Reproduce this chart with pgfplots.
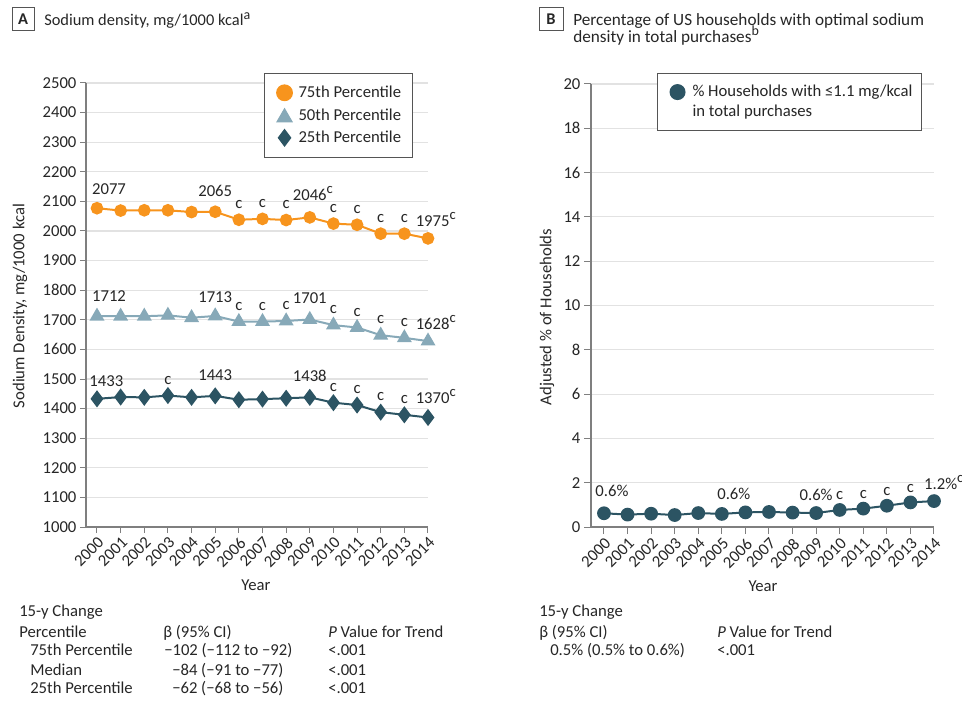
\documentclass[border=0pt]{standalone}
\usepackage{fontspec}
\setmainfont{Carlito}
\usepackage{pgfplots}
\pgfplotsset{compat=1.18}
\definecolor{orangeC}{HTML}{F7941D}
\definecolor{lightC}{HTML}{87A9B8}
\definecolor{darkC}{HTML}{2C5463}
\definecolor{axisC}{HTML}{7F7F7F}
\definecolor{gridC}{HTML}{E2E2E2}
\definecolor{textC}{HTML}{262626}
\definecolor{legC}{HTML}{555555}
\protected\def\supc{\rlap{\raisebox{0.42em}{\fontsize{11pt}{12pt}\selectfont c}}}
\newcommand\fs{\fontsize{12.5pt}{15pt}\selectfont}
\newcommand\fst{\fontsize{12.3pt}{14.4pt}\selectfont}
\newcommand\fstb{\fontsize{12.9pt}{14.4pt}\selectfont}
\pgfplotsset{
  base/.style={
    scale only axis, clip=false,
    axis lines=left, axis line style={-, draw=axisC, line width=1.1pt},
    tick align=outside, major tick length=4.5pt,
    tick style={draw=axisC, line width=0.75pt},
    ymajorgrids, grid style={draw=gridC, line width=0.9pt},
    /pgf/number format/1000 sep={},
    /pgf/number format/assume math mode=true,
    tick label style={text=textC, font=\fs},
    xtick={2000,...,2014},
    xticklabel style={rotate=45, anchor=north east, inner sep=1.5pt},
    yticklabel style={inner sep=2.5pt},
    xmax=2014,
    legend cell align=left,
  },
  lab/.style={draw=none, mark=none, forget plot, nodes near coords, point meta=explicit symbolic,
    nodes near coords style={text=textC, anchor=base, inner sep=0pt, font=\fs, #1}},
}
\begin{document}
\begin{tikzpicture}[font=\fs, text=textC]
\useasboundingbox (0,0) rectangle (721.5pt,525pt);
% ---------- Panel A ----------
\begin{axis}[base, at={(64.5pt,129.75pt)}, anchor=south west, width=256.5pt, height=333pt,
  xmin=1999.535, ymin=1000, ymax=2500, ytick={1000,1100,...,2500},
  legend style={at={(0.5205,1.0225)}, anchor=north west, draw=legC, line width=0.8pt,
    inner xsep=8.6pt, inner ysep=6pt, row sep=0pt, nodes={inner sep=0pt, text=textC, font=\fs}}]
\addlegendimage{legend image code/.code={\path[draw=none,fill=none] (-6.4pt,-8.44pt) rectangle (10.5pt,8.44pt);
  \draw[orangeC, fill=orangeC, mark=*, mark size=5.9pt] plot coordinates {(0pt,0pt)};}}
\addlegendentry{75th Percentile}
\addlegendimage{legend image code/.code={\path[draw=none,fill=none] (-6.4pt,-8.44pt) rectangle (10.5pt,8.44pt);
  \draw[lightC, fill=lightC, mark=triangle*, mark size=6.5pt] plot coordinates {(0pt,-1.6pt)};}}
\addlegendentry{50th Percentile}
\addlegendimage{legend image code/.code={\path[draw=none,fill=none] (-6.4pt,-8.44pt) rectangle (10.5pt,8.44pt);
  \draw[darkC, fill=darkC, mark=diamond*, mark size=6.2pt] plot coordinates {(0pt,0pt)};}}
\addlegendentry{25th Percentile}
\addplot[forget plot, orangeC, line width=1.5pt, mark=*, mark size=4pt, mark options={fill=orangeC}] coordinates {
(2000,2077) (2001,2069) (2002,2070) (2003,2070) (2004,2064) (2005,2065) (2006,2038) (2007,2041)
(2008,2037) (2009,2046) (2010,2025) (2011,2021) (2012,1991) (2013,1991) (2014,1975)};
\addplot[forget plot, lightC, line width=1.5pt, mark=triangle*, mark size=5pt, mark options={fill=lightC}] coordinates {
(2000,1712) (2001,1712) (2002,1712) (2003,1715) (2004,1707) (2005,1713) (2006,1694) (2007,1694)
(2008,1696) (2009,1701) (2010,1682) (2011,1674) (2012,1648) (2013,1639) (2014,1628)};
\addplot[forget plot, darkC, line width=1.5pt, mark=diamond*, mark size=5.2pt, mark options={fill=darkC}] coordinates {
(2000,1433) (2001,1439) (2002,1438) (2003,1444) (2004,1438) (2005,1443) (2006,1430) (2007,1432)
(2008,1435) (2009,1438) (2010,1420) (2011,1412) (2012,1388) (2013,1379) (2014,1370)};
% labels 75th
\addplot[lab={yshift=10pt, xshift=9pt}] coordinates {(2000,2077)[2077]};
\addplot[lab={yshift=11.7pt}] coordinates {(2005,2065)[2065]};
\addplot[lab={yshift=12.5pt}] coordinates {(2009,2046)[2046\supc]};
\addplot[lab={yshift=8.8pt, xshift=3.5pt}] coordinates {(2014,1975)[1975\supc]};
\addplot[lab={yshift=8.6pt}] coordinates {(2006,2038)[c] (2007,2041)[c] (2008,2037)[c] (2010,2025)[c] (2011,2021)[c] (2012,1991)[c] (2013,1991)[c]};
% labels 50th
\addplot[lab={yshift=11.25pt, xshift=9pt}] coordinates {(2000,1712)[1712]};
\addplot[lab={yshift=9.75pt}] coordinates {(2005,1713)[1713]};
\addplot[lab={yshift=12pt}] coordinates {(2009,1701)[1701]};
\addplot[lab={yshift=9pt, xshift=3.5pt}] coordinates {(2014,1628)[1628\supc]};
\addplot[lab={yshift=8.6pt}] coordinates {(2006,1694)[c] (2007,1694)[c] (2008,1696)[c] (2010,1682)[c] (2011,1674)[c] (2012,1648)[c] (2013,1639)[c]};
% labels 25th
\addplot[lab={yshift=9pt, xshift=7pt}] coordinates {(2000,1433)[1433]};
\addplot[lab={yshift=11.5pt}] coordinates {(2005,1443)[1443]};
\addplot[lab={yshift=11.7pt}] coordinates {(2009,1438)[1438]};
\addplot[lab={yshift=10.3pt, xshift=3.5pt}] coordinates {(2014,1370)[1370\supc]};
\addplot[lab={yshift=8.5pt}] coordinates {(2003,1444)[c] (2010,1420)[c] (2011,1412)[c] (2012,1388)[c] (2013,1379)[c]};
\end{axis}
% ---------- Panel B ----------
\begin{axis}[base, at={(443.25pt,129.75pt)}, anchor=south west, width=257.25pt, height=332.25pt,
  xmin=1999.45, ymin=0, ymax=20, ytick={0,2,...,20}, major tick length=5.25pt,
  legend style={at={(0.1924,1.0248)}, anchor=north west, draw=legC, line width=0.8pt,
    inner xsep=7pt, inner ysep=6.4pt, row sep=0pt, nodes={inner sep=0pt, text depth=, text=textC, font=\fs}}]
\addlegendimage{legend image code/.code={\path[draw=none,fill=none] (-8pt,-8pt) rectangle (11.25pt,8pt);
  \draw[darkC, fill=darkC, mark=*, mark size=5.6pt] plot coordinates {(0pt,7.5pt)};}}
\addlegendentry{\begin{tabular}{@{}l@{}}\% Households with ≤1.1 mg/kcal\\ in total purchases\end{tabular}}
\addplot[forget plot, darkC, line width=1.5pt, mark=*, mark size=4.4pt, mark options={fill=darkC}] coordinates {
(2000,0.62) (2001,0.56) (2002,0.60) (2003,0.54) (2004,0.63) (2005,0.59) (2006,0.66) (2007,0.68)
(2008,0.65) (2009,0.63) (2010,0.77) (2011,0.83) (2012,0.96) (2013,1.11) (2014,1.17)};
\addplot[lab={yshift=12.75pt, xshift=6pt}] coordinates {(2000,0.62)[0.6\%]};
\addplot[lab={yshift=10.5pt, xshift=9pt}] coordinates {(2005,0.59)[0.6\%]};
\addplot[lab={yshift=9.75pt}] coordinates {(2009,0.63)[0.6\%]};
\addplot[lab={yshift=9pt, xshift=5pt}] coordinates {(2014,1.17)[1.2\%\supc]};
\addplot[lab={yshift=7.5pt}] coordinates {(2010,0.77)[c] (2011,0.83)[c] (2012,0.96)[c] (2013,1.11)[c]};
\end{axis}
% ---------- titles and labels ----------
\draw[legC, line width=0.75pt] (9pt,501.75pt) rectangle (25.5pt,519pt);
\node[font=\fst\bfseries] at (17.25pt,510.4pt) {A};
\node[anchor=base west, inner sep=0pt, font=\fst] at (33pt,505.5pt) {Sodium density, mg/1000 kcal\raisebox{0.42em}{\fontsize{10.5pt}{12pt}\selectfont a}};
\draw[legC, line width=0.75pt] (404.25pt,501.75pt) rectangle (422.25pt,519pt);
\node[font=\fst\bfseries] at (413.25pt,510.4pt) {B};
\node[anchor=base west, inner sep=0pt, font=\fstb] at (429.75pt,505.5pt) {Percentage of US households with optimal sodium};
\node[anchor=base west, inner sep=0pt, font=\fstb] at (429.75pt,492.75pt) {density in total purchases\raisebox{0.42em}{\fontsize{10.5pt}{12pt}\selectfont b}};
\node[rotate=90] at (15pt,295.5pt) {Sodium Density, mg/1000 kcal};
\node[rotate=90] at (410.25pt,287.25pt) {Adjusted \% of Households};
\node[anchor=base] at (192pt,82.5pt) {Year};
\node[anchor=base] at (572.25pt,81.75pt) {Year};
% ---------- tables ----------
\begin{scope}[every node/.style={anchor=base west, inner sep=0pt}]
\node at (14.25pt,63pt) {15-y Change};
\node at (14.25pt,47.25pt) {Percentile};
\node at (122.25pt,47.25pt) {β (95\% CI)};
\node at (246pt,47.25pt) {\textit{P} Value for Trend};
\node at (22.5pt,33.75pt) {75th Percentile};
\node at (123pt,33.75pt) {−102 (−112 to −92)};
\node at (246pt,33.75pt) {<.001};
\node at (22.5pt,18.75pt) {Median};
\node at (129pt,18.75pt) {−84 (−91 to −77)};
\node at (246pt,18.75pt) {<.001};
\node at (22.5pt,5.25pt) {25th Percentile};
\node at (129pt,5.25pt) {−62 (−68 to −56)};
\node at (246pt,5.25pt) {<.001};
\node at (404.25pt,63pt) {15-y Change};
\node at (404.25pt,47.25pt) {β (95\% CI)};
\node at (537.75pt,47.25pt) {\textit{P} Value for Trend};
\node at (412.5pt,33.75pt) {0.5\% (0.5\% to 0.6\%)};
\node at (537.75pt,33.75pt) {<.001};
\end{scope}
\end{tikzpicture}
\end{document}
